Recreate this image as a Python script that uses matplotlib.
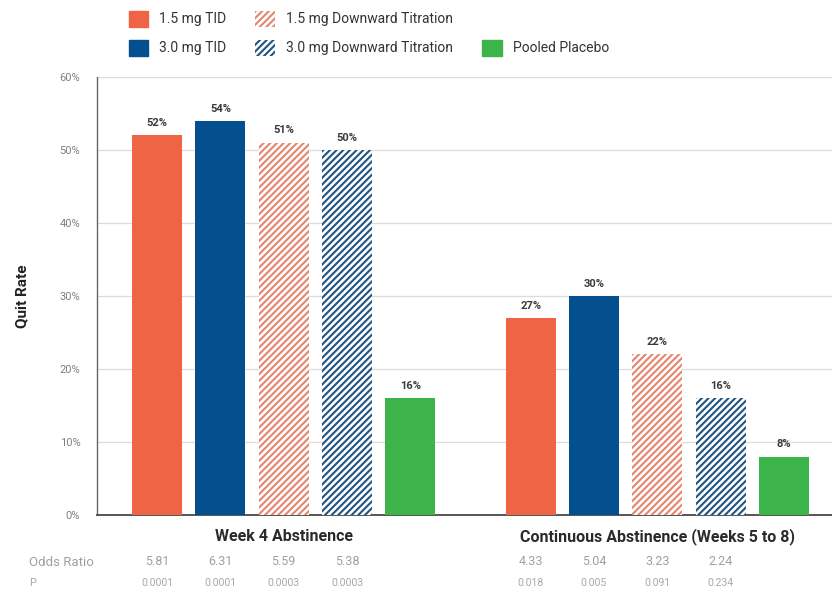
import numpy as np
import matplotlib.pyplot as plt
import matplotlib.patches as mpatches

plt.rcParams["font.family"] = ["Roboto", "DejaVu Sans"]
plt.rcParams["hatch.linewidth"] = 1.5

groups = ["Week 4 Abstinence", "Continuous Abstinence (Weeks 5 to 8)"]
series = ["1.5 mg TID", "3.0 mg TID", "1.5 mg Downward Titration",
          "3.0 mg Downward Titration", "Pooled Placebo"]
week4 = [52, 54, 51, 50, 16]
continuous = [27, 30, 22, 16, 8]
odds_week4 = ["5.81", "6.31", "5.59", "5.38"]
odds_cont = ["4.33", "5.04", "3.23", "2.24"]
p_week4 = ["0.0001", "0.0001", "0.0003", "0.0003"]
p_cont = ["0.018", "0.005", "0.091", "0.234"]

orange = "#EF6445"
blue = "#04508F"
green = "#3CB44A"
styles = [
    dict(color=orange),
    dict(color=blue),
    dict(facecolor="white", edgecolor="#E5846C", hatch="/////", linewidth=0),
    dict(facecolor="white", edgecolor="#1D5480", hatch="/////", linewidth=0),
    dict(color=green),
]

fig = plt.figure(figsize=(8.32, 5.96), dpi=100)
ax = fig.add_axes([0.1166, 0.1359, 0.8834, 0.7349])

gap = 5.9
width = 0.79
for g, vals in enumerate([week4, continuous]):
    for i, v in enumerate(vals):
        x = i + g * gap
        ax.bar(x, v, width=width, zorder=3, **styles[i])
        ax.text(x, v + 1.0, f"{v}%", ha="center", va="bottom",
                fontsize=8, fontweight="bold", color="#3a3a3a")

ax.set_ylim(0, 60)
ax.set_xlim(-0.95, 10.66)
ax.set_yticks(np.arange(0, 61, 10))
ax.set_yticklabels([f"{t}%" for t in range(0, 61, 10)])
ax.tick_params(axis="y", length=0, pad=12, labelsize=8, labelcolor="#808080")
ax.set_xticks([])
ax.grid(axis="y", color="#dcdcdc", linewidth=0.9, zorder=0)
for side in ["top", "right"]:
    ax.spines[side].set_visible(False)
ax.spines["left"].set_color("#666666")
ax.spines["bottom"].set_color("#555555")
ax.spines["left"].set_linewidth(1.0)
ax.spines["bottom"].set_linewidth(1.4)
ax.set_ylabel("Quit Rate", fontsize=11, fontweight="bold", color="#222222",
              labelpad=22)

# group titles and the statistics rows below the axis
trans = ax.get_xaxis_transform()
for g, name in enumerate(groups):
    ax.text(2 + g * gap, -0.05, name, transform=trans, ha="center", va="center",
            fontsize=11.5, fontweight="bold", color="#2a2a2a")
for g, (odds, pvals) in enumerate([(odds_week4, p_week4), (odds_cont, p_cont)]):
    for i in range(4):
        x = i + g * gap
        ax.text(x, -0.106, odds[i], transform=trans, ha="center", va="center",
                fontsize=9, color="#a0a0a0")
        ax.text(x, -0.156, pvals[i], transform=trans, ha="center", va="center",
                fontsize=7.5, color="#a8a8a8")
fig.text(29 / 832, 1 - 562 / 596, "Odds Ratio", ha="left", va="center",
         fontsize=9.5, color="#a0a0a0")
fig.text(29 / 832, 1 - 583 / 596, "P", ha="left", va="center",
         fontsize=8, color="#a8a8a8")

# legend: blank slot keeps Pooled Placebo on the second row
handles = [mpatches.Patch(label=series[0], **styles[0]),
           mpatches.Patch(label=series[1], **styles[1]),
           mpatches.Patch(label=series[2], **styles[2]),
           mpatches.Patch(label=series[3], **styles[3]),
           mpatches.Patch(label=" ", visible=False, color="white"),
           mpatches.Patch(label=series[4], **styles[4])]
leg = fig.legend(handles=handles, ncol=3, loc="upper left",
                 bbox_to_anchor=(116 / 832, 1 + 2 / 596), frameon=False,
                 fontsize=10, handlelength=1.4, handleheight=1.4,
                 labelspacing=0.95, columnspacing=2.1, handletextpad=0.8)
for t in leg.get_texts():
    t.set_color("#333333")

fig.savefig("out.png", dpi=100)
